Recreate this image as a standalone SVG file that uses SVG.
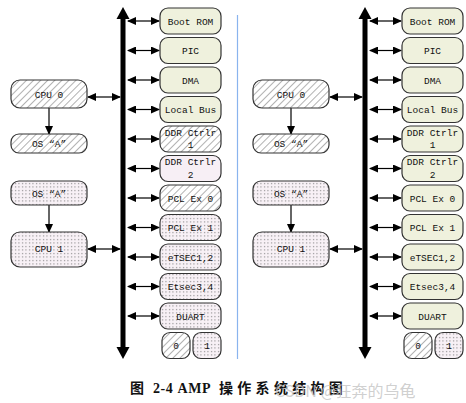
<svg xmlns="http://www.w3.org/2000/svg" width="466" height="403" viewBox="0 0 466 403">
<style>
.n{stroke:#333;stroke-width:1.2}
.g{fill:#eff1dd}
.h{fill:url(#hatch)}
.d{fill:url(#dots)}
.p{fill:#f7eff5}
.t{font-family:"Liberation Mono",monospace;font-size:9.5px;fill:#111;text-anchor:middle}
.c{stroke:#000;stroke-width:1.2;fill:none;marker-start:url(#ah);marker-end:url(#ah)}
.v{stroke:#333;stroke-width:1.5;fill:none;marker-end:url(#ah)}
.bus{stroke:#000;stroke-width:5}
</style>
<defs>
<pattern id="hatch" width="5" height="5" patternUnits="userSpaceOnUse" patternTransform="rotate(45)">
<rect width="5" height="5" fill="#fff"/>
<line x1="0" y1="0" x2="0" y2="5" stroke="#666" stroke-width="1"/>
</pattern>
<pattern id="dots" width="3.5" height="3.5" patternUnits="userSpaceOnUse">
<rect width="3.5" height="3.5" fill="#f8f1f6"/>
<rect x="1" y="1" width="1" height="1" fill="#666"/>
</pattern>
<marker id="ah" markerUnits="userSpaceOnUse" markerWidth="9" markerHeight="8" refX="8" refY="4" orient="auto-start-reverse">
<path d="M0,0 L9,4 L0,8 z" fill="#000"/>
</marker>
</defs>

<!-- separator -->
<line x1="237.5" y1="15" x2="237.5" y2="359" stroke="#8ab4ee" stroke-width="1.2"/>

<!-- LEFT PANEL -->
<g id="left-connectors">
<line class="bus" x1="123" y1="17" x2="123" y2="349"/>
<polygon points="123,7 116.5,19 129.5,19"/>
<polygon points="123,359 116.5,347 129.5,347"/>
<line class="c" x1="128" y1="21" x2="159" y2="21"/>
<line class="c" x1="128" y1="50.5" x2="159" y2="50.5"/>
<line class="c" x1="128" y1="80" x2="159" y2="80"/>
<line class="c" x1="128" y1="109.5" x2="159" y2="109.5"/>
<line class="c" x1="128" y1="139" x2="159" y2="139"/>
<line class="c" x1="128" y1="168.5" x2="159" y2="168.5"/>
<line class="c" x1="128" y1="198" x2="159" y2="198"/>
<line class="c" x1="128" y1="227.5" x2="159" y2="227.5"/>
<line class="c" x1="128" y1="257" x2="159" y2="257"/>
<line class="c" x1="128" y1="286.5" x2="159" y2="286.5"/>
<line class="c" x1="128" y1="316" x2="159" y2="316"/>
<line class="c" x1="88" y1="97" x2="120" y2="97"/>
<line class="c" x1="88" y1="249" x2="120" y2="249"/>
<line class="v" x1="49" y1="108" x2="49" y2="134"/>
<line class="v" x1="49" y1="205" x2="49" y2="232"/>
</g>
<g id="L-bootrom"><rect class="n g" x="160" y="8" width="61" height="26" rx="8"/><text class="t" x="190.5" y="24.5">Boot ROM</text></g>
<g id="L-pic"><rect class="n g" x="160" y="37.5" width="61" height="26" rx="8"/><text class="t" x="190.5" y="54">PIC</text></g>
<g id="L-dma"><rect class="n g" x="160" y="67" width="61" height="26" rx="8"/><text class="t" x="190.5" y="83.5">DMA</text></g>
<g id="L-localbus"><rect class="n g" x="160" y="96.5" width="61" height="26" rx="8"/><text class="t" x="190.5" y="113">Local Bus</text></g>
<g id="L-ddr1"><rect class="n h" x="160" y="126" width="61" height="26" rx="8"/><text class="t" x="190.5" y="135.5">DDR Ctrlr</text><text class="t" x="190.5" y="148">1</text></g>
<g id="L-ddr2"><rect class="n p" x="160" y="155.5" width="61" height="26" rx="8"/><text class="t" x="190.5" y="165">DDR Ctrlr</text><text class="t" x="190.5" y="177.5">2</text></g>
<g id="L-pclex0"><rect class="n h" x="160" y="185" width="61" height="26" rx="8"/><text class="t" x="190.5" y="201.5">PCL Ex 0</text></g>
<g id="L-pclex1"><rect class="n d" x="160" y="214.5" width="61" height="26" rx="8"/><text class="t" x="190.5" y="231">PCL Ex 1</text></g>
<g id="L-etsec12"><rect class="n d" x="160" y="244" width="61" height="26" rx="8"/><text class="t" x="190.5" y="260.5">eTSEC1,2</text></g>
<g id="L-etsec34"><rect class="n d" x="160" y="273.5" width="61" height="26" rx="8"/><text class="t" x="190.5" y="290">Etsec3,4</text></g>
<g id="L-duart"><rect class="n d" x="160" y="303" width="61" height="26" rx="8"/><text class="t" x="190.5" y="319.5">DUART</text></g>
<g id="L-0"><rect class="n h" x="162" y="332.5" width="28" height="26" rx="8"/><text class="t" x="176" y="349">0</text></g>
<g id="L-1"><rect class="n d" x="193" y="332.5" width="28" height="26" rx="8"/><text class="t" x="207" y="349">1</text></g>
<g id="L-cpu0"><rect class="n h" x="11" y="80" width="76" height="28" rx="9"/><text class="t" x="49" y="97.5">CPU 0</text></g>
<g id="L-osa1"><rect class="n h" x="11" y="134" width="76" height="19" rx="8"/><text class="t" x="49" y="147">OS “A”</text></g>
<g id="L-osa2"><rect class="n d" x="11" y="181" width="76" height="24" rx="8"/><text class="t" x="49" y="196.5">OS “A”</text></g>
<g id="L-cpu1"><rect class="n d" x="11" y="232" width="76" height="35" rx="9"/><text class="t" x="49" y="252">CPU 1</text></g>

<!-- RIGHT PANEL -->
<g id="right-connectors" transform="translate(242,0)">
<line class="bus" x1="123" y1="17" x2="123" y2="349"/>
<polygon points="123,7 116.5,19 129.5,19"/>
<polygon points="123,359 116.5,347 129.5,347"/>
<line class="c" x1="128" y1="21" x2="159" y2="21"/>
<line class="c" x1="128" y1="50.5" x2="159" y2="50.5"/>
<line class="c" x1="128" y1="80" x2="159" y2="80"/>
<line class="c" x1="128" y1="109.5" x2="159" y2="109.5"/>
<line class="c" x1="128" y1="139" x2="159" y2="139"/>
<line class="c" x1="128" y1="168.5" x2="159" y2="168.5"/>
<line class="c" x1="128" y1="198" x2="159" y2="198"/>
<line class="c" x1="128" y1="227.5" x2="159" y2="227.5"/>
<line class="c" x1="128" y1="257" x2="159" y2="257"/>
<line class="c" x1="128" y1="286.5" x2="159" y2="286.5"/>
<line class="c" x1="128" y1="316" x2="159" y2="316"/>
<line class="c" x1="88" y1="97" x2="120" y2="97"/>
<line class="c" x1="88" y1="249" x2="120" y2="249"/>
<line class="v" x1="49" y1="108" x2="49" y2="134"/>
<line class="v" x1="49" y1="205" x2="49" y2="232"/>
</g>
<g transform="translate(242,0)">
<g id="R-bootrom"><rect class="n g" x="160" y="8" width="61" height="26" rx="8"/><text class="t" x="190.5" y="24.5">Boot ROM</text></g>
<g id="R-pic"><rect class="n g" x="160" y="37.5" width="61" height="26" rx="8"/><text class="t" x="190.5" y="54">PIC</text></g>
<g id="R-dma"><rect class="n g" x="160" y="67" width="61" height="26" rx="8"/><text class="t" x="190.5" y="83.5">DMA</text></g>
<g id="R-localbus"><rect class="n g" x="160" y="96.5" width="61" height="26" rx="8"/><text class="t" x="190.5" y="113">Local Bus</text></g>
<g id="R-ddr1"><rect class="n g" x="160" y="126" width="61" height="26" rx="8"/><text class="t" x="190.5" y="135.5">DDR Ctrlr</text><text class="t" x="190.5" y="148">1</text></g>
<g id="R-ddr2"><rect class="n g" x="160" y="155.5" width="61" height="26" rx="8"/><text class="t" x="190.5" y="165">DDR Ctrlr</text><text class="t" x="190.5" y="177.5">2</text></g>
<g id="R-pclex0"><rect class="n g" x="160" y="185" width="61" height="26" rx="8"/><text class="t" x="190.5" y="201.5">PCL Ex 0</text></g>
<g id="R-pclex1"><rect class="n g" x="160" y="214.5" width="61" height="26" rx="8"/><text class="t" x="190.5" y="231">PCL Ex 1</text></g>
<g id="R-etsec12"><rect class="n g" x="160" y="244" width="61" height="26" rx="8"/><text class="t" x="190.5" y="260.5">eTSEC1,2</text></g>
<g id="R-etsec34"><rect class="n g" x="160" y="273.5" width="61" height="26" rx="8"/><text class="t" x="190.5" y="290">Etsec3,4</text></g>
<g id="R-duart"><rect class="n g" x="160" y="303" width="61" height="26" rx="8"/><text class="t" x="190.5" y="319.5">DUART</text></g>
<g id="R-0"><rect class="n h" x="162" y="332.5" width="28" height="26" rx="8"/><text class="t" x="176" y="349">0</text></g>
<g id="R-1"><rect class="n d" x="193" y="332.5" width="28" height="26" rx="8"/><text class="t" x="207" y="349">1</text></g>
<g id="R-cpu0"><rect class="n h" x="11" y="80" width="76" height="28" rx="9"/><text class="t" x="49" y="97.5">CPU 0</text></g>
<g id="R-osa1"><rect class="n h" x="11" y="134" width="76" height="19" rx="8"/><text class="t" x="49" y="147">OS “A”</text></g>
<g id="R-osa2"><rect class="n d" x="11" y="181" width="76" height="24" rx="8"/><text class="t" x="49" y="196.5">OS “A”</text></g>
<g id="R-cpu1"><rect class="n d" x="11" y="232" width="76" height="35" rx="9"/><text class="t" x="49" y="252">CPU 1</text></g>
</g>

<!-- caption -->
<text y="393" font-family="'Liberation Serif','Noto Sans CJK SC',serif" font-weight="bold" font-size="14" fill="#111"><tspan x="130">图</tspan><tspan x="153" letter-spacing="0.6">2-4 AMP</tspan><tspan x="219" letter-spacing="4.3">操作系统结构图</tspan></text>
<text x="275" y="397" font-family="'Noto Sans CJK SC',sans-serif" font-size="16" fill="#c4c4c4" fill-opacity="0.8">CSDN @狂奔的乌龟</text>
</svg>
